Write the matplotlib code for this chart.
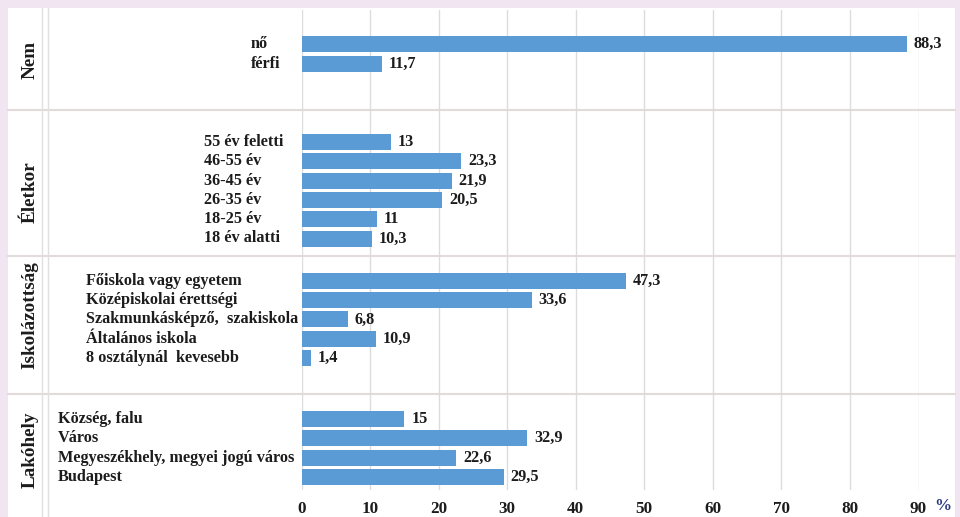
import numpy as np
import matplotlib.pyplot as plt
from matplotlib.patches import Rectangle
from matplotlib.lines import Line2D
from matplotlib.transforms import blended_transform_factory

# survey breakdown, percent of respondents
groups = ["Nem", "Életkor", "Iskolázottság", "Lakóhely"]

nem_labels = ["nő", "férfi"]
nem_values = [88.3, 11.7]

kor_labels = ["55 év feletti", "46-55 év", "36-45 év", "26-35 év", "18-25 év", "18 év alatti"]
kor_values = [13, 23.3, 21.9, 20.5, 11, 10.3]

isk_labels = ["Főiskola vagy egyetem", "Középiskolai érettségi",
              "Szakmunkásképző,  szakiskola", "Általános iskola", "8 osztálynál  kevesebb"]
isk_values = [47.3, 33.6, 6.8, 10.9, 1.4]

lak_labels = ["Község, falu", "Város", "Megyeszékhely, megyei jogú város", "Budapest"]
lak_values = [15, 32.9, 22.6, 29.5]

xticks = list(range(0, 100, 10))

# layout (in pixels of the 960x517 canvas)
W, H = 960, 517
group_first_row = [43.5, 142, 281, 419]
row_pitch = [20, 19.3, 19.2, 19.3]
label_left = [251, 204, 86, 58]
group_mid = [60, 192, 315, 450]
separators = [110, 256, 394]

bar_color = "#5b9bd5"
text_color = "#1c1c1c"
font = "Liberation Serif"
fs = 11.7

fig = plt.figure(figsize=(W / 100, H / 100), dpi=100, facecolor="#f0e5f0")

def fx(px):
    return px / W

def fy(py):
    return 1 - py / H

# white panel behind everything
fig.patches.append(Rectangle((fx(8), 0), fx(955) - fx(8), fy(8), transform=fig.transFigure,
                             facecolor="white", edgecolor="none", zorder=-5))

ax = fig.add_axes([fx(301.5), fy(490), fx(918.5) - fx(301.5), fy(10) - fy(490)])
ax.set_zorder(1)
ax.set_facecolor("none")
ax.set_xlim(0, 90)
ax.set_ylim(490, 10)
ax.set_xticks(xticks)
ax.set_xticklabels([str(t) for t in xticks], fontfamily=font, fontweight="bold",
                   fontsize=12.3, color=text_color)
ax.tick_params(axis="x", length=0, pad=8)
ax.set_yticks([])
for s in ax.spines.values():
    s.set_visible(False)
ax.grid(axis="x", color="#dcdcdc", linewidth=1)
ax.set_axisbelow(True)

label_tf = blended_transform_factory(fig.transFigure, ax.transData)

all_labels = [nem_labels, kor_labels, isk_labels, lak_labels]
all_values = [nem_values, kor_values, isk_values, lak_values]

for g, (labels, values) in enumerate(zip(all_labels, all_values)):
    ys = group_first_row[g] + row_pitch[g] * np.arange(len(values))
    ax.barh(ys, values, height=16, color=bar_color, zorder=2)
    for y, v, lab in zip(ys, values, labels):
        ax.text(v + 1.0, y, f"{v:g}".replace(".", ","), va="center", ha="left",
                fontfamily=font, fontweight="bold", fontsize=fs, color=text_color)
        ax.text(fx(label_left[g]), y, lab, transform=label_tf, va="center", ha="left",
                fontfamily=font, fontweight="bold", fontsize=fs, color=text_color,
                clip_on=False)
    fig.text(fx(30), fy(group_mid[g]), groups[g], rotation=90, ha="center", va="center",
             fontfamily=font, fontweight="bold", fontsize=13.8, color=text_color)

# unit after the last tick
fig.text(fx(934), fy(506), "%", ha="left", va="center", fontfamily=font,
         fontweight="bold", fontsize=12.3, color="#2b3a80")

# group separators and label column borders
for py in separators:
    fig.lines.append(Line2D([fx(8), fx(955)], [fy(py), fy(py)], transform=fig.transFigure,
                            color="#e3dada", linewidth=1.5, zorder=-1))
for px in [42, 48]:
    fig.lines.append(Line2D([fx(px), fx(px)], [fy(8), 0], transform=fig.transFigure,
                            color="#e0e0e0", linewidth=1, zorder=-1))

fig.savefig("out.png", dpi=100, facecolor=fig.get_facecolor())
